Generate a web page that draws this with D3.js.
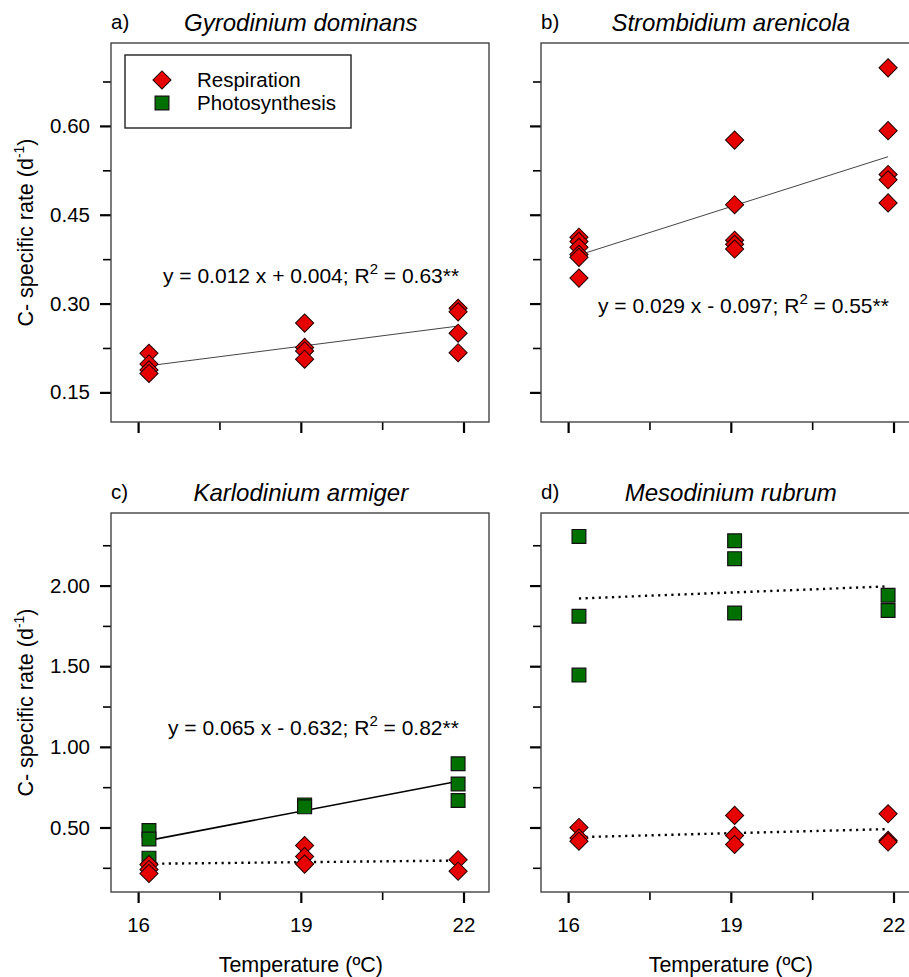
<!DOCTYPE html>
<html>
<head>
<meta charset="utf-8">
<script src="https://cdn.jsdelivr.net/npm/d3@7"></script>
<style>
  body { margin: 0; background: #fff; }
  text { font-family: "Liberation Sans", Arial, sans-serif; fill: #000; }
</style>
</head>
<body>
<svg id="chart" width="909" height="977"></svg>
<script>
// measured temperatures (x) and axis ticks
const temps = [16.2, 19.07, 21.9];
const fitTemps = [16.2, 21.9];
const xTicks = [16, 19, 22];
const xMinorTicks = [17.5, 20.5];
const topTicks = [0.15, 0.30, 0.45, 0.60];
const topMinorTicks = [0.225, 0.375, 0.525, 0.675];
const bottomTicks = [0.5, 1.0, 1.5, 2.0];
const bottomMinorTicks = [0.25, 0.75, 1.25, 1.75, 2.25];

// C-specific rates, one inner array per temperature
const gyroResp = [[0.216, 0.198, 0.188, 0.182], [0.267, 0.226, 0.220, 0.206], [0.292, 0.286, 0.250, 0.217]];
const strombResp = [[0.412, 0.405, 0.395, 0.383, 0.378, 0.343], [0.576, 0.467, 0.407, 0.400, 0.392], [0.698, 0.592, 0.518, 0.509, 0.470]];
const karloResp = [[0.27, 0.24, 0.215], [0.388, 0.32, 0.273], [0.30, 0.229]];
const karloPhoto = [[0.481, 0.429, 0.31], [0.64, 0.628], [0.895, 0.77, 0.667]];
const mesoResp = [[0.50, 0.435, 0.415], [0.575, 0.45, 0.395], [0.585, 0.42, 0.41]];
const mesoPhoto = [[2.305, 1.81, 1.445], [2.278, 2.167, 1.83], [1.94, 1.845]];

// fitted lines, values read at 16.2 and 21.9 ºC
const gyroRespFit = [0.195, 0.262];
const strombRespFit = [0.382, 0.548];
const karloPhotoFit = [0.42, 0.787];
const karloRespFit = [0.275, 0.295];
const mesoPhotoFit = [1.92, 1.995];
const mesoRespFit = [0.44, 0.49];

const RED = "#e60000", GREEN = "#007000";
const W = 378, H = 379;

const panels = [
  { left: 111, top: 43, label: "a)", title: "Gyrodinium dominans", domain: [0.10, 0.74],
    ticks: topTicks, minor: topMinorTicks, yLabels: true, xLabels: false,
    resp: gyroResp, photo: null, legend: true,
    fits: [{ v: gyroRespFit, style: "thin" }],
    eq: { a: "y = 0.012 x + 0.004; R", b: " = 0.63**", x: 52, y: 240 } },
  { left: 541, top: 43, label: "b)", title: "Strombidium arenicola", domain: [0.10, 0.74],
    ticks: topTicks, minor: topMinorTicks, yLabels: false, xLabels: false,
    resp: strombResp, photo: null,
    fits: [{ v: strombRespFit, style: "thin" }],
    eq: { a: "y = 0.029 x - 0.097; R", b: " = 0.55**", x: 57, y: 270 } },
  { left: 111, top: 513, label: "c)", title: "Karlodinium armiger", domain: [0.10, 2.45],
    ticks: bottomTicks, minor: bottomMinorTicks, yLabels: true, xLabels: true,
    resp: karloResp, photo: karloPhoto,
    fits: [{ v: karloPhotoFit, style: "solid" }, { v: karloRespFit, style: "dot" }],
    eq: { a: "y = 0.065 x - 0.632; R", b: " = 0.82**", x: 57, y: 222 } },
  { left: 541, top: 513, label: "d)", title: "Mesodinium rubrum", domain: [0.10, 2.45],
    ticks: bottomTicks, minor: bottomMinorTicks, yLabels: false, xLabels: true,
    resp: mesoResp, photo: mesoPhoto,
    fits: [{ v: mesoPhotoFit, style: "dot" }, { v: mesoRespFit, style: "dot" }] }
];

const svg = d3.select("#chart");
const x = d3.scaleLinear().domain([15.5, 22.47]).range([0, W]);
const fmt = d3.format(".2f");
const diamond = d3.symbol(d3.symbolSquare, 165);
const square = d3.symbol(d3.symbolSquare, 190);

function flat(groups) {
  const out = [];
  groups.forEach((vals, i) => vals.forEach(v => out.push({ t: temps[i], v })));
  return out;
}

function styleAxis(ax, major) {
  ax.select(".domain").remove();
  ax.selectAll(".tick line").attr("stroke", "#000").attr("stroke-width", major ? 2.2 : 1.6);
  ax.selectAll("text").attr("font-size", 20.5).attr("font-family", null);
}

panels.forEach(p => {
  const y = d3.scaleLinear().domain(p.domain).range([H, 0]);
  const g = svg.append("g").attr("transform", `translate(${p.left},${p.top})`);

  // y axis
  g.append("g")
    .call(d3.axisLeft(y).tickValues(p.ticks).tickSize(11).tickPadding(10)
      .tickFormat(p.yLabels ? fmt : ""))
    .call(ax => styleAxis(ax, true));
  g.append("g")
    .call(d3.axisLeft(y).tickValues(p.minor).tickSize(8).tickFormat(""))
    .call(ax => styleAxis(ax, false));

  // x axis
  g.append("g").attr("transform", `translate(0,${H})`)
    .call(d3.axisBottom(x).tickValues(xTicks).tickSize(11).tickPadding(14)
      .tickFormat(p.xLabels ? d3.format("d") : ""))
    .call(ax => styleAxis(ax, true));
  g.append("g").attr("transform", `translate(0,${H})`)
    .call(d3.axisBottom(x).tickValues(xMinorTicks).tickSize(8).tickFormat(""))
    .call(ax => styleAxis(ax, false));

  g.append("rect").attr("width", W).attr("height", H)
    .attr("fill", "none").attr("stroke", "#444").attr("stroke-width", 1.4);

  // titles
  g.append("text").attr("x", 0).attr("y", -14).attr("font-size", 20.5).text(p.label);
  g.append("text").attr("x", x(19)).attr("y", -12).attr("text-anchor", "middle")
    .attr("font-size", 24).attr("font-style", "italic").text(p.title);

  if (p.yLabels) {
    const t = g.append("text")
      .attr("transform", `translate(-78,${H / 2}) rotate(-90)`)
      .attr("text-anchor", "middle").attr("font-size", 21.5);
    t.append("tspan").text("C- specific rate (d");
    t.append("tspan").attr("font-size", 14).attr("dy", -9).text("-1");
    t.append("tspan").attr("dy", 9).text(")");
  }
  if (p.xLabels) {
    g.append("text").attr("x", x(19)).attr("y", H + 80).attr("text-anchor", "middle")
      .attr("font-size", 21.5).text("Temperature (ºC)");
  }

  // fitted lines
  const line = d3.line().x((d, i) => x(fitTemps[i])).y(d => y(d));
  p.fits.forEach(f => {
    const path = g.append("path").datum(f.v).attr("d", line).attr("fill", "none");
    if (f.style === "thin") path.attr("stroke", "#444").attr("stroke-width", 1);
    if (f.style === "solid") path.attr("stroke", "#000").attr("stroke-width", 1.6);
    if (f.style === "dot") path.attr("stroke", "#000").attr("stroke-width", 2.4)
      .attr("stroke-dasharray", "2.2,4.4");
  });

  // markers
  if (p.photo) {
    g.selectAll(".photo").data(flat(p.photo)).join("path")
      .attr("transform", d => `translate(${x(d.t)},${y(d.v)})`)
      .attr("d", square).attr("fill", GREEN).attr("stroke", "#111").attr("stroke-width", 1.2);
  }
  g.selectAll(".resp").data(flat(p.resp)).join("path")
    .attr("transform", d => `translate(${x(d.t)},${y(d.v)}) rotate(45)`)
    .attr("d", diamond).attr("fill", RED).attr("stroke", "#200").attr("stroke-width", 1);

  // equation
  if (p.eq) {
    const t = g.append("text").attr("x", p.eq.x).attr("y", p.eq.y).attr("font-size", 21);
    t.append("tspan").text(p.eq.a);
    t.append("tspan").attr("font-size", 15).attr("dy", -9).text("2");
    t.append("tspan").attr("dy", 9).text(p.eq.b);
  }

  // legend
  if (p.legend) {
    const lg = g.append("g").attr("transform", "translate(14,12)");
    lg.append("rect").attr("width", 226).attr("height", 73)
      .attr("fill", "#fff").attr("stroke", "#222").attr("stroke-width", 1.4);
    lg.append("path").attr("transform", "translate(37,25) rotate(45)").attr("d", diamond)
      .attr("fill", RED).attr("stroke", "#200").attr("stroke-width", 1);
    lg.append("path").attr("transform", "translate(37,48)").attr("d", square)
      .attr("fill", GREEN).attr("stroke", "#111").attr("stroke-width", 1.2);
    lg.append("text").attr("x", 72).attr("y", 32).attr("font-size", 20.5).text("Respiration");
    lg.append("text").attr("x", 72).attr("y", 55).attr("font-size", 20.5).text("Photosynthesis");
  }
});
</script>
</body>
</html>
